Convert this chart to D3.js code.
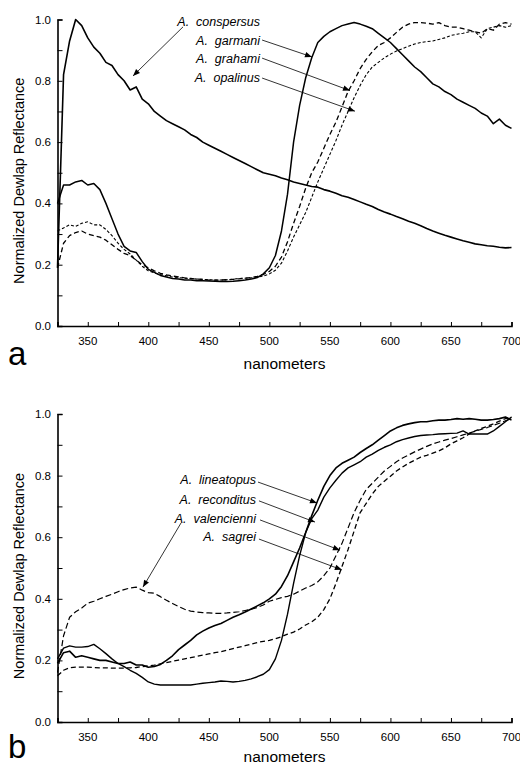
<!DOCTYPE html>
<html>
<head>
<meta charset="utf-8">
<title>Dewlap reflectance</title>
<script src="https://cdnjs.cloudflare.com/ajax/libs/d3/7.8.5/d3.min.js"></script>
<style>
  body { margin: 0; background: #fff; }
  svg { display: block; font-family: "Liberation Sans", Arial, Helvetica, sans-serif; }
  .species { font-style: italic; font-size: 12.5px; white-space: pre; }
</style>
</head>
<body>
<div id="chart"></div>
<script>
// wavelength grid (nm), shared by every spectrum
const nm = [325,330,335,340,345,350,355,360,365,370,375,380,385,390,395,400,405,410,415,420,
  425,430,435,440,445,450,455,460,465,470,475,480,485,490,495,500,505,510,515,520,
  525,530,535,540,545,550,555,560,565,570,575,580,585,590,595,600,605,610,615,620,
  625,630,635,640,645,650,655,660,665,670,675,680,685,690,695,700];

// panel a
const conspersus = [0.19,0.82,0.93,1.0,0.98,0.94,0.91,0.89,0.86,0.85,0.82,0.80,0.77,0.78,0.74,0.725,0.70,0.685,0.67,0.66,
  0.65,0.64,0.625,0.615,0.60,0.59,0.58,0.57,0.56,0.55,0.54,0.53,0.52,0.51,0.50,0.495,0.49,0.483,0.477,0.47,
  0.465,0.46,0.455,0.453,0.445,0.44,0.433,0.425,0.42,0.413,0.405,0.397,0.39,0.38,0.372,0.365,0.357,0.35,0.342,0.335,
  0.327,0.318,0.31,0.303,0.296,0.29,0.284,0.278,0.273,0.268,0.265,0.262,0.26,0.257,0.255,0.256];
const garmani = [0.40,0.46,0.46,0.47,0.475,0.46,0.465,0.445,0.40,0.35,0.30,0.26,0.245,0.24,0.21,0.185,0.175,0.165,0.16,0.155,
  0.153,0.15,0.15,0.148,0.148,0.147,0.146,0.145,0.145,0.146,0.148,0.15,0.153,0.158,0.17,0.19,0.23,0.31,0.43,0.60,
  0.72,0.81,0.875,0.925,0.945,0.96,0.97,0.98,0.985,0.99,0.985,0.978,0.97,0.955,0.94,0.925,0.905,0.885,0.865,0.845,
  0.83,0.81,0.79,0.78,0.765,0.755,0.74,0.73,0.72,0.71,0.695,0.685,0.66,0.675,0.655,0.645];
const grahami = [0.19,0.27,0.295,0.305,0.31,0.30,0.295,0.29,0.28,0.265,0.25,0.237,0.23,0.215,0.20,0.19,0.18,0.172,0.167,0.163,
  0.16,0.157,0.155,0.153,0.152,0.15,0.15,0.15,0.151,0.152,0.154,0.156,0.158,0.162,0.168,0.178,0.195,0.225,0.275,0.335,
  0.39,0.45,0.50,0.535,0.58,0.625,0.665,0.715,0.765,0.80,0.84,0.87,0.895,0.915,0.925,0.94,0.958,0.975,0.985,0.99,
  0.99,0.988,0.985,0.99,0.98,0.975,0.975,0.97,0.965,0.96,0.955,0.97,0.965,0.985,0.99,0.985];
const opalinus = [0.31,0.32,0.33,0.325,0.335,0.34,0.33,0.33,0.315,0.295,0.27,0.25,0.235,0.215,0.195,0.18,0.173,0.168,0.164,0.16,
  0.158,0.156,0.155,0.153,0.152,0.151,0.15,0.15,0.151,0.153,0.155,0.156,0.157,0.16,0.163,0.17,0.182,0.205,0.245,0.29,
  0.33,0.37,0.42,0.47,0.515,0.56,0.605,0.655,0.70,0.745,0.785,0.82,0.845,0.86,0.875,0.887,0.897,0.905,0.913,0.92,
  0.925,0.928,0.93,0.935,0.94,0.948,0.952,0.955,0.96,0.96,0.94,0.97,0.975,0.98,0.975,0.98];

// panel b
const lineatopus = [0.19,0.225,0.23,0.21,0.215,0.21,0.205,0.20,0.20,0.195,0.19,0.19,0.195,0.185,0.185,0.178,0.18,0.187,0.20,0.215,
  0.235,0.25,0.265,0.283,0.295,0.305,0.313,0.32,0.33,0.34,0.348,0.357,0.367,0.377,0.387,0.40,0.415,0.44,0.475,0.52,
  0.565,0.615,0.67,0.72,0.765,0.80,0.825,0.84,0.85,0.86,0.875,0.888,0.90,0.915,0.93,0.945,0.955,0.963,0.968,0.972,
  0.975,0.975,0.978,0.98,0.98,0.982,0.985,0.983,0.985,0.983,0.98,0.98,0.982,0.985,0.99,0.98];
const reconditus = [0.205,0.24,0.247,0.243,0.243,0.245,0.252,0.238,0.222,0.205,0.19,0.18,0.168,0.158,0.145,0.13,0.123,0.12,0.12,0.12,
  0.12,0.12,0.12,0.123,0.126,0.128,0.13,0.133,0.132,0.13,0.132,0.135,0.14,0.147,0.155,0.17,0.205,0.265,0.35,0.45,
  0.54,0.615,0.66,0.688,0.73,0.76,0.785,0.808,0.825,0.835,0.845,0.86,0.87,0.882,0.892,0.90,0.91,0.917,0.922,0.927,
  0.93,0.932,0.933,0.935,0.936,0.937,0.938,0.945,0.935,0.935,0.935,0.935,0.945,0.96,0.975,0.99];
const valencienni = [0.16,0.28,0.34,0.358,0.37,0.386,0.392,0.40,0.408,0.415,0.423,0.43,0.435,0.438,0.428,0.42,0.418,0.407,0.395,0.385,
  0.375,0.366,0.36,0.357,0.355,0.354,0.353,0.353,0.354,0.356,0.358,0.362,0.366,0.372,0.38,0.392,0.398,0.404,0.408,0.415,
  0.425,0.435,0.443,0.455,0.475,0.50,0.54,0.58,0.63,0.68,0.72,0.755,0.775,0.795,0.815,0.83,0.845,0.857,0.867,0.877,
  0.886,0.895,0.903,0.909,0.915,0.92,0.926,0.932,0.938,0.944,0.95,0.956,0.963,0.97,0.978,0.985];
const sagrei = [0.15,0.168,0.176,0.178,0.178,0.178,0.177,0.176,0.176,0.175,0.175,0.175,0.176,0.177,0.18,0.182,0.185,0.189,0.193,0.197,
  0.201,0.205,0.209,0.213,0.217,0.221,0.225,0.228,0.233,0.238,0.243,0.248,0.253,0.258,0.262,0.265,0.27,0.277,0.285,0.292,
  0.302,0.315,0.325,0.34,0.365,0.40,0.45,0.505,0.56,0.62,0.68,0.71,0.74,0.765,0.782,0.798,0.815,0.828,0.84,0.85,
  0.86,0.866,0.873,0.88,0.89,0.903,0.913,0.923,0.935,0.945,0.953,0.96,0.968,0.977,0.985,0.99];

const xTickLabels = [350, 400, 450, 500, 550, 600, 650, 700];
const yTickLabels = [0, 0.2, 0.4, 0.6, 0.8, 1.0];

// label callouts, in data units: text at [nm, value], arrow from -> to
const panels = [
  {
    letter: "a", top: 19.5, bottom: 326, titleDy: 43, letterDy: 39,
    series: [
      { values: conspersus, dash: null, width: 1.6 },
      { values: garmani, dash: null, width: 1.5 },
      { values: grahami, dash: "5,3", width: 1.3 },
      { values: opalinus, dash: "3,2", width: 1.1 }
    ],
    notes: [
      { text: "conspersus", at: [492.3, 0.995], from: [428.7, 0.976], to: [387.4, 0.816] },
      { text: "garmani", at: [492.3, 0.933], from: [494, 0.933], to: [535.2, 0.878] },
      { text: "grahami", at: [492.3, 0.874], from: [494, 0.874], to: [566.6, 0.768] },
      { text: "opalinus", at: [492.3, 0.812], from: [494, 0.809], to: [570.7, 0.701] }
    ]
  },
  {
    letter: "b", top: 414, bottom: 722, titleDy: 39.5, letterDy: 36,
    series: [
      { values: lineatopus, dash: null, width: 1.6 },
      { values: reconditus, dash: null, width: 1.4 },
      { values: valencienni, dash: "6,3", width: 1.2 },
      { values: sagrei, dash: "5,3", width: 1.3 }
    ],
    notes: [
      { text: "lineatopus", at: [489, 0.786], from: [490.6, 0.779], to: [539.3, 0.711] },
      { text: "reconditus", at: [489, 0.724], from: [491.4, 0.718], to: [537.7, 0.649] },
      { text: "valencienni", at: [489, 0.662], from: [492.3, 0.656], to: [558.3, 0.558] },
      { text: "sagrei", at: [489, 0.601], from: [491.4, 0.594], to: [559.9, 0.494] },
      { text: null, from: [427, 0.646], to: [395.6, 0.438] }
    ]
  }
];

const width = 520, height = 764;
const svg = d3.select("#chart").append("svg")
  .attr("width", width).attr("height", height);

svg.append("defs").append("marker")
  .attr("id", "head")
  .attr("viewBox", "0 -5 10 10")
  .attr("refX", 10).attr("refY", 0)
  .attr("markerUnits", "userSpaceOnUse")
  .attr("markerWidth", 8).attr("markerHeight", 7)
  .attr("orient", "auto")
  .append("path").attr("d", "M0,-4L10,0L0,4Z").attr("fill", "#000");

const x = d3.scaleLinear().domain([325, 700]).range([57.5, 511.5]);

panels.forEach(p => {
  const y = d3.scaleLinear().domain([0, 1]).range([p.bottom, p.top]);
  const g = svg.append("g");

  // x axis: ticks every 25 nm pointing inward, labels every 50
  g.append("g")
    .attr("transform", `translate(0,${p.bottom})`)
    .call(d3.axisBottom(x).tickValues(d3.range(325, 701, 25)).tickSize(-4).tickFormat(""))
    .call(a => a.select(".domain").attr("stroke-width", 1.6))
    .call(a => a.selectAll(".tick line").attr("stroke-width", 1));
  g.append("g")
    .selectAll("text").data(xTickLabels).join("text")
    .attr("x", d => x(d)).attr("y", p.bottom + 19)
    .attr("text-anchor", "middle").attr("font-size", 11.5)
    .text(d => d);

  // y axis: ticks every 0.1 pointing inward, labels every 0.2
  g.append("g")
    .attr("transform", `translate(${x(325)},0)`)
    .call(d3.axisLeft(y).tickValues(d3.range(0, 1.01, 0.1)).tickSize(-5).tickFormat(""))
    .call(a => a.select(".domain").attr("stroke-width", 1.6))
    .call(a => a.selectAll(".tick line").attr("stroke-width", 1));
  g.append("g")
    .selectAll("text").data(yTickLabels).join("text")
    .attr("x", 51).attr("y", d => y(d) + 4)
    .attr("text-anchor", "end").attr("font-size", 11.5)
    .text(d => d3.format(".1f")(d));

  // titles
  g.append("text")
    .attr("x", (x.range()[0] + x.range()[1]) / 2).attr("y", p.bottom + p.titleDy)
    .attr("text-anchor", "middle").attr("font-size", 15.5)
    .text("nanometers");
  g.append("text")
    .attr("transform", `translate(24,${(p.top + p.bottom) / 2 + 8}) rotate(-90)`)
    .attr("text-anchor", "middle").attr("font-size", 14.5)
    .text("Normalized Dewlap Reflectance");
  g.append("text")
    .attr("x", 8).attr("y", p.bottom + p.letterDy)
    .attr("font-size", 33)
    .text(p.letter);

  // spectra
  const line = d3.line().x((d, i) => x(nm[i])).y(d => y(d));
  g.append("g").attr("fill", "none").attr("stroke", "#000")
    .selectAll("path").data(p.series).join("path")
    .attr("d", s => line(s.values))
    .attr("stroke-width", s => s.width)
    .attr("stroke-dasharray", s => s.dash)
    .attr("stroke-linejoin", "round");

  // callouts
  const notes = g.append("g");
  notes.selectAll("line").data(p.notes).join("line")
    .attr("x1", d => x(d.from[0])).attr("y1", d => y(d.from[1]))
    .attr("x2", d => x(d.to[0])).attr("y2", d => y(d.to[1]))
    .attr("stroke", "#000").attr("stroke-width", 0.8)
    .attr("marker-end", "url(#head)");
  notes.selectAll("text").data(p.notes.filter(d => d.text)).join("text")
    .attr("class", "species")
    .attr("x", d => x(d.at[0])).attr("y", d => y(d.at[1]) + 4.5)
    .attr("text-anchor", "end")
    .text(d => "A.\u00a0\u00a0" + d.text);
});
</script>
</body>
</html>
